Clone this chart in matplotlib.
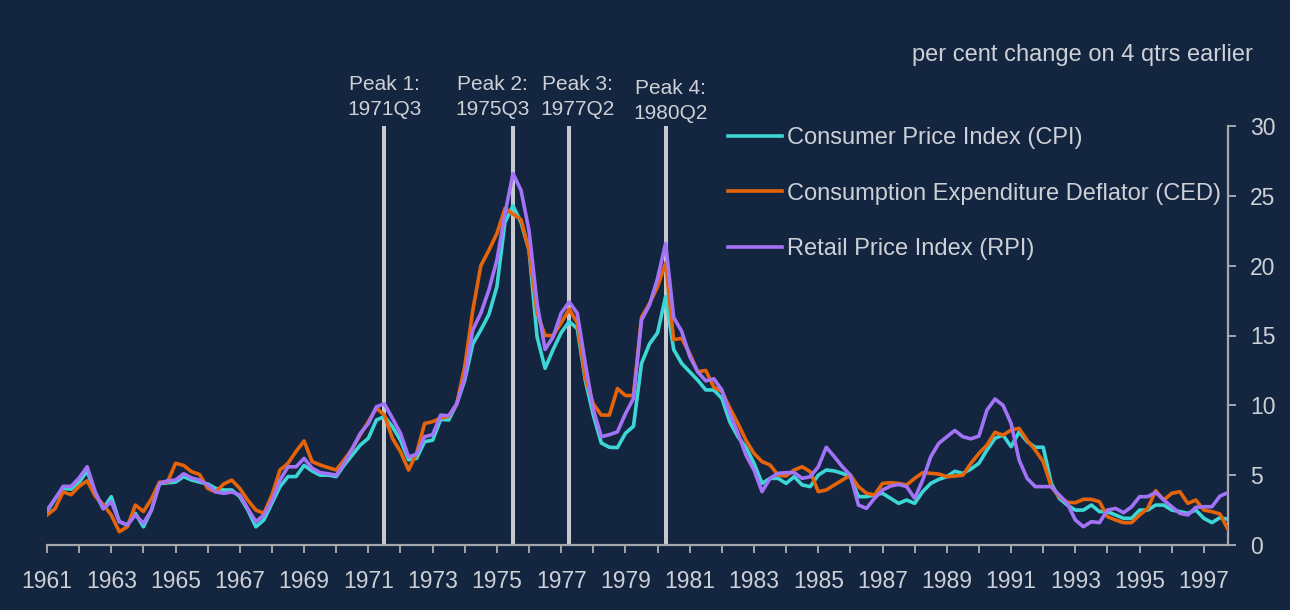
import matplotlib.pyplot as plt
import matplotlib.transforms as mtransforms
from matplotlib.ticker import MultipleLocator
import numpy as np

# quarterly, per cent change on 4 qtrs earlier, 1961Q1 - 1997Q4
start_year = 1961

cpi = [2.4, 3.3, 4.05, 4.0, 4.5, 5.3, 3.7, 2.6, 3.46, 1.67, 1.43, 2.27, 1.3, 2.5, 4.4, 4.45,
       4.5, 4.9, 4.65, 4.5, 4.37, 4.05, 3.94, 3.94, 3.46, 2.5, 1.3, 1.8, 3.0, 4.18, 4.9, 4.9,
       5.7, 5.3, 5.0, 5.0, 4.9, 5.73, 6.44, 7.16, 7.64, 8.95, 9.2, 8.47, 7.5, 6.1, 6.2, 7.4,
       7.5, 9.0, 8.95, 10.1, 11.8, 14.4, 15.4, 16.5, 18.5, 23.1, 24.3, 23.1, 21.1, 14.9, 12.65, 14.0,
       15.2, 16.0, 15.5, 11.8, 9.3, 7.3, 7.0, 6.97, 8.0, 8.5, 13.0, 14.4, 15.2, 17.8, 14.0, 13.0,
       12.4, 11.8, 11.1, 11.1, 10.5, 8.8, 7.75, 7.0, 5.85, 4.41, 4.77, 4.77, 4.41, 4.89, 4.3, 4.18,
       5.0, 5.37, 5.3, 5.13, 4.89, 3.46, 3.46, 3.58, 3.7, 3.34, 2.98, 3.22, 2.98, 3.82, 4.41, 4.7,
       4.89, 5.28, 5.13, 5.44, 5.85, 6.8, 7.64, 7.87, 7.04, 8.1, 7.4, 7.0, 7.0, 4.41, 3.34, 2.86,
       2.5, 2.5, 2.86, 2.39, 2.39, 2.15, 1.91, 1.91, 2.5, 2.5, 2.86, 2.86, 2.5, 2.39, 2.27, 2.5,
       1.91, 1.6, 1.96, 1.84]

ced = [2.15, 2.6, 3.8, 3.6, 4.2, 4.6, 3.5, 2.9, 2.15, 0.95, 1.3, 2.86, 2.4, 3.3, 4.5, 4.5,
       5.85, 5.7, 5.25, 5.05, 4.05, 3.8, 4.37, 4.65, 4.05, 3.2, 2.5, 2.27, 3.58, 5.37, 5.85, 6.7,
       7.45, 5.97, 5.73, 5.54, 5.37, 6.1, 6.9, 7.9, 8.83, 9.8, 9.3, 7.64, 6.68, 5.37, 6.56, 8.7,
       8.83, 9.1, 9.2, 10.1, 12.8, 16.8, 20.0, 21.1, 22.3, 24.1, 23.7, 23.3, 21.1, 16.6, 15.0, 15.0,
       15.9, 16.9, 15.9, 12.0, 10.1, 9.3, 9.3, 11.2, 10.7, 10.7, 16.3, 17.3, 18.5, 20.2, 14.7, 14.8,
       13.7, 12.4, 12.5, 11.3, 11.0, 9.8, 8.7, 7.5, 6.56, 5.97, 5.73, 5.0, 4.94, 5.37, 5.6, 5.25,
       3.82, 3.94, 4.3, 4.65, 5.0, 4.18, 3.7, 3.58, 4.41, 4.46, 4.41, 4.3, 4.77, 5.18, 5.13, 5.08,
       4.89, 4.94, 5.0, 5.85, 6.56, 7.16, 8.07, 7.87, 8.23, 8.35, 7.5, 6.8, 5.97, 4.18, 3.46, 3.05,
       3.03, 3.27, 3.27, 3.1, 2.03, 1.79, 1.6, 1.6, 2.15, 2.62, 3.89, 3.22, 3.7, 3.82, 2.98, 3.22,
       2.5, 2.39, 2.22, 1.12]

rpi = [2.5, 3.3, 4.2, 4.2, 4.8, 5.6, 3.8, 2.6, 3.1, 1.67, 1.43, 2.15, 1.55, 2.5, 4.4, 4.6,
       4.65, 5.1, 4.8, 4.65, 4.3, 3.8, 3.7, 3.8, 3.58, 2.6, 1.67, 2.15, 3.2, 4.65, 5.6, 5.6,
       6.2, 5.5, 5.18, 5.1, 5.0, 5.85, 6.9, 8.0, 8.7, 9.9, 10.1, 9.07, 8.0, 6.3, 6.5, 7.75,
       7.9, 9.3, 9.25, 10.1, 12.0, 15.4, 16.6, 18.25, 20.4, 23.7, 26.6, 25.4, 22.5, 17.3, 14.0, 14.9,
       16.6, 17.4, 16.6, 13.0, 9.7, 7.75, 7.9, 8.1, 9.4, 10.5, 16.1, 17.2, 19.1, 21.6, 16.3, 15.3,
       13.5, 12.4, 11.75, 11.9, 11.1, 9.4, 8.0, 6.44, 5.37, 3.82, 4.77, 5.13, 5.18, 5.18, 4.77, 4.89,
       5.6, 7.0, 6.32, 5.6, 5.0, 2.86, 2.62, 3.34, 3.94, 4.22, 4.34, 4.18, 3.34, 4.65, 6.32, 7.28,
       7.75, 8.2, 7.75, 7.6, 7.8, 9.66, 10.45, 10.0, 8.7, 6.08, 4.77, 4.18, 4.18, 4.18, 3.58, 2.98,
       1.79, 1.31, 1.67, 1.6, 2.5, 2.62, 2.31, 2.74, 3.46, 3.46, 3.77, 3.22, 2.74, 2.27, 2.15, 2.7,
       2.74, 2.74, 3.5, 3.75]

series_names = ['Consumer Price Index (CPI)',
                'Consumption Expenditure Deflator (CED)',
                'Retail Price Index (RPI)']
series_colors = ['#3DD6D6', '#E5640A', '#A373F7']

peak_labels = ['Peak 1:\n1971Q3', 'Peak 2:\n1975Q3', 'Peak 3:\n1977Q2', 'Peak 4:\n1980Q2']
peak_dates = [1971.5, 1975.5, 1977.25, 1980.25]
peak_label_shift = [0.0, -0.65, 0.25, 0.15]

bg = '#14253F'
text_col = '#CDD1D7'
axis_col = '#A4A8AE'

quarters = start_year + np.arange(len(cpi)) / 4

fig = plt.figure(figsize=(12.9, 6.1), dpi=100, facecolor=bg)
ax = fig.add_axes([47 / 1290, 65 / 610, 1181 / 1290, 419 / 610], facecolor=bg)

for d in peak_dates:
    ax.axvline(d, color='#C6C9CF', lw=2.9, zorder=1)

for values, name, col in zip([cpi, ced, rpi], series_names, series_colors):
    ax.plot(quarters, values, color=col, lw=2.6, label=name, zorder=3)

ax.set_xlim(start_year, quarters[-1])
ax.set_ylim(0, 30)

ax.xaxis.set_major_locator(MultipleLocator(2, offset=1))
ax.xaxis.set_minor_locator(MultipleLocator(1))
ax.xaxis.set_major_formatter(plt.FuncFormatter(lambda v, p: f'{int(round(v))}'))
ax.yaxis.tick_right()
ax.yaxis.set_major_locator(MultipleLocator(5))

for s in ['top', 'left']:
    ax.spines[s].set_visible(False)
for s in ['bottom', 'right']:
    ax.spines[s].set_color(axis_col)
    ax.spines[s].set_linewidth(1.6)

ax.tick_params(axis='x', which='both', direction='out', length=6, width=1.4, color=axis_col,
               labelcolor=text_col, labelsize=16.5, pad=12)
ax.tick_params(axis='y', which='both', direction='out', length=6, width=1.4, color=axis_col,
               labelcolor=text_col, labelsize=16.5, pad=10, right=True, left=False)

trans = mtransforms.blended_transform_factory(ax.transData, ax.transAxes)
for lab, d, sh in zip(peak_labels, peak_dates, peak_label_shift):
    y = 1.008 if lab.startswith('Peak 4') else 1.016
    ax.text(d + sh, y, lab, transform=trans, ha='center', va='bottom',
            color=text_col, fontsize=15, linespacing=1.4, family='Liberation Sans')

fig.text(1253 / 1290, 1 - 55 / 610, 'per cent change on 4 qtrs earlier', ha='right', va='center',
         color=text_col, fontsize=17, family='Liberation Sans')

leg = ax.legend(loc='upper left', bbox_to_anchor=(728 / 1290, 1 - 127 / 610),
                bbox_transform=fig.transFigure, frameon=False,
                handlelength=2.3, handletextpad=0.2, labelspacing=1.42,
                borderpad=0, borderaxespad=0, prop={'family': 'Liberation Sans', 'size': 17})
for t in leg.get_texts():
    t.set_color(text_col)
for h in leg.get_lines():
    h.set_linewidth(2.6)

for lbl in ax.get_xticklabels() + ax.get_yticklabels():
    lbl.set_family('Liberation Sans')

fig.savefig('out.png', dpi=100, facecolor=bg)
